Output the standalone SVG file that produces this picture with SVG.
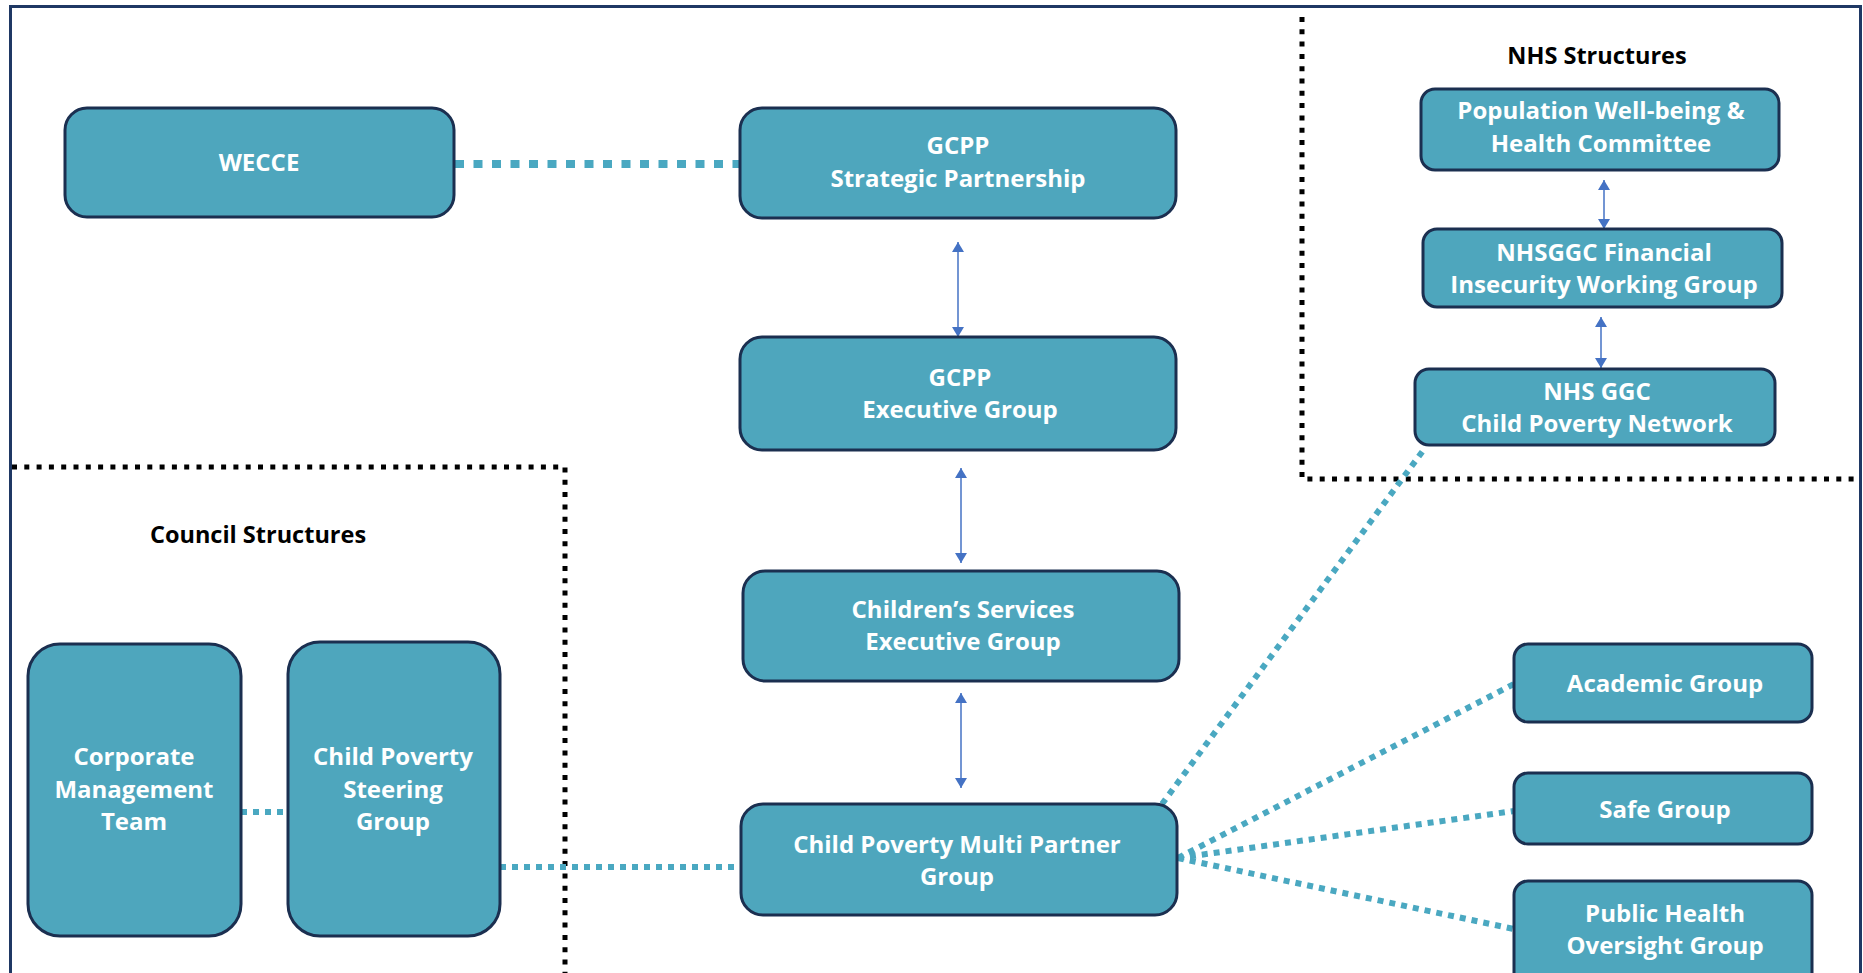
<svg xmlns="http://www.w3.org/2000/svg" width="1863" height="973" viewBox="0 0 1863 973">
  <style>
    .box { fill: #4ea6bd; stroke: #1b2f50; stroke-width: 3; }
    .label { font-family: "Open Sans", "Liberation Sans", sans-serif; font-weight: 700; font-size: 24px; fill: #ffffff; text-anchor: middle; }
    .title { font-family: "Open Sans", "Liberation Sans", sans-serif; font-weight: 700; font-size: 23.5px; fill: #000000; text-anchor: middle; }
    .frame { fill: none; stroke: #1f3864; stroke-width: 3; }
    .area { fill: none; stroke: #000000; stroke-width: 5; stroke-dasharray: 5 7.3; }
    .link { fill: none; stroke: #4aa8c1; stroke-width: 6; stroke-dasharray: 6 6; }
    .link-wide { fill: none; stroke: #4aa8c1; stroke-width: 8; stroke-dasharray: 9 9.5; }
    .flow { fill: none; stroke: #4472c4; stroke-width: 1.5; marker-start: url(#arrowhead); marker-end: url(#arrowhead); }
  </style>
  <defs>
    <marker id="arrowhead" viewBox="0 0 10 12" refX="10" refY="6" markerWidth="10" markerHeight="12" markerUnits="userSpaceOnUse" orient="auto-start-reverse">
      <path d="M0,0 L10,6 L0,12 z" fill="#4472c4"/>
    </marker>
  </defs>

  <rect width="1863" height="973" fill="#ffffff"/>

  <!-- outer frame, open at the bottom edge -->
  <rect class="frame" x="10.5" y="6.5" width="1850" height="990"/>

  <!-- structure areas -->
  <g id="council-area">
    <path class="area" d="M12,467 H565 V973"/>
    <text class="title" x="258" y="543">Council Structures</text>
  </g>
  <g id="nhs-area">
    <path class="area" d="M1302,17 V479 H1858"/>
    <text class="title" x="1597" y="64">NHS Structures</text>
  </g>

  <!-- connectors -->
  <g id="connectors">
    <line class="link-wide" x1="455" y1="164" x2="740" y2="164"/>
    <line class="link" x1="241" y1="812" x2="288" y2="812"/>
    <line class="link" x1="500" y1="867" x2="741" y2="867"/>
    <line class="link" x1="1162" y1="804" x2="1425" y2="448"/>
    <line class="link" x1="1178" y1="858" x2="1514" y2="684"/>
    <line class="link" x1="1178" y1="858" x2="1514" y2="811"/>
    <line class="link" x1="1178" y1="858" x2="1514" y2="929"/>
    <line class="flow" x1="958" y1="242" x2="958" y2="337"/>
    <line class="flow" x1="961" y1="468" x2="961" y2="563"/>
    <line class="flow" x1="961" y1="693" x2="961" y2="788"/>
    <line class="flow" x1="1604" y1="180" x2="1604" y2="229"/>
    <line class="flow" x1="1601" y1="317" x2="1601" y2="368"/>
  </g>

  <!-- nodes -->
  <g id="wecce">
    <rect class="box" x="65" y="108" width="389" height="109" rx="22"/>
    <text class="label" x="259" y="171">WECCE</text>
  </g>
  <g id="gcpp-strategic">
    <rect class="box" x="740" y="108" width="436" height="110" rx="22"/>
    <text class="label" x="958" y="154">GCPP</text>
    <text class="label" x="958" y="187">Strategic Partnership</text>
  </g>
  <g id="gcpp-executive">
    <rect class="box" x="740" y="337" width="436" height="113" rx="22"/>
    <text class="label" x="960" y="386">GCPP</text>
    <text class="label" x="960" y="418">Executive Group</text>
  </g>
  <g id="childrens-services">
    <rect class="box" x="743" y="571" width="436" height="110" rx="22"/>
    <text class="label" x="963" y="618">Children’s Services</text>
    <text class="label" x="963" y="650">Executive Group</text>
  </g>
  <g id="multi-partner">
    <rect class="box" x="741" y="804" width="436" height="111" rx="22"/>
    <text class="label" x="957" y="853">Child Poverty Multi Partner</text>
    <text class="label" x="957" y="885">Group</text>
  </g>
  <g id="corporate-management">
    <rect class="box" x="28" y="644" width="213" height="292" rx="32"/>
    <text class="label" x="134" y="765">Corporate</text>
    <text class="label" x="134" y="798">Management</text>
    <text class="label" x="134" y="830">Team</text>
  </g>
  <g id="steering-group">
    <rect class="box" x="288" y="642" width="212" height="294" rx="32"/>
    <text class="label" x="393" y="765">Child Poverty</text>
    <text class="label" x="393" y="798">Steering</text>
    <text class="label" x="393" y="830">Group</text>
  </g>
  <g id="population-wellbeing">
    <rect class="box" x="1421" y="89" width="358" height="81" rx="14"/>
    <text class="label" x="1601" y="119">Population Well-being &amp;</text>
    <text class="label" x="1601" y="152">Health Committee</text>
  </g>
  <g id="financial-insecurity">
    <rect class="box" x="1423" y="229" width="359" height="78" rx="14"/>
    <text class="label" x="1604" y="261">NHSGGC Financial</text>
    <text class="label" x="1604" y="293">Insecurity Working Group</text>
  </g>
  <g id="nhs-child-poverty-network">
    <rect class="box" x="1415" y="369" width="360" height="76" rx="14"/>
    <text class="label" x="1597" y="400">NHS GGC</text>
    <text class="label" x="1597" y="432">Child Poverty Network</text>
  </g>
  <g id="academic-group">
    <rect class="box" x="1514" y="644" width="298" height="78" rx="14"/>
    <text class="label" x="1665" y="692">Academic Group</text>
  </g>
  <g id="safe-group">
    <rect class="box" x="1514" y="773" width="298" height="71" rx="14"/>
    <text class="label" x="1665" y="818">Safe Group</text>
  </g>
  <g id="public-health-oversight">
    <rect class="box" x="1514" y="881" width="298" height="110" rx="14"/>
    <text class="label" x="1665" y="922">Public Health</text>
    <text class="label" x="1665" y="954">Oversight Group</text>
  </g>
</svg>
